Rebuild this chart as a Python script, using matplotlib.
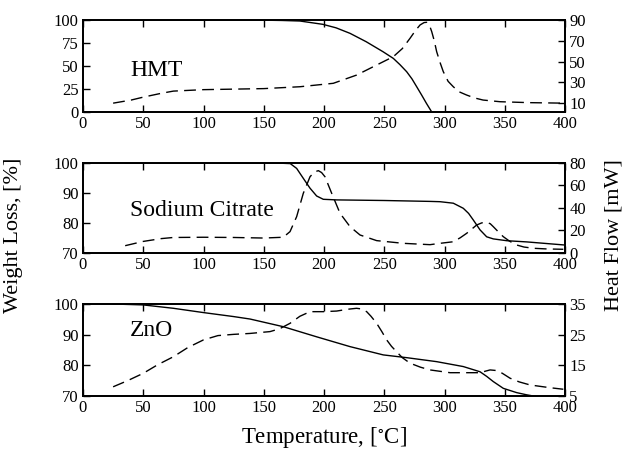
import matplotlib
matplotlib.use("Agg")
import matplotlib.pyplot as plt

plt.rcParams['font.family'] = ['Liberation Serif', 'DejaVu Serif']
plt.rcParams['mathtext.fontset'] = 'stix'

# HMT
hmt_wt_T = [25, 100, 150, 165, 180, 199, 210, 221.6, 235, 249, 257.5, 263, 268.6, 273, 276.9, 281, 285, 289.4]
hmt_wt = [100, 100, 99.8, 99.5, 98.9, 95.3, 91.5, 85.5, 76.4, 65.5, 58.3, 51.5, 43.8, 36, 27.5, 18.5, 9.4, 0]
hmt_hf_T = [25, 40, 50, 65, 75, 100, 150, 180, 207.7, 227, 243.7, 257.5, 265, 271.4, 276, 279.7, 283, 285.2,
            287.5, 289.4, 291.5, 293.5, 296.5, 299, 303, 307.3, 312, 318.4, 325, 332, 346, 370, 400]
hmt_hf = [10, 13, 15.8, 19.5, 21.6, 23, 24, 25.8, 29.1, 37, 46.7, 54.7, 62.5, 72.4, 80, 85.2, 87.5, 87.8,
          85, 78.8, 70, 59.5, 48.5, 40.3, 31, 25.8, 21, 17.8, 15, 13, 11.4, 10.5, 10]

# Sodium Citrate
sc_wt_T = [35, 100, 160, 172, 177.3, 182.8, 188.4, 193.9, 199.4, 210.5, 250, 288, 296.3, 307.3, 315.6, 320,
           323.9, 329.5, 335, 340.5, 351.6, 368.2, 398.6]
sc_wt = [100, 100, 100, 99.8, 98.2, 94.9, 91.6, 89, 87.9, 87.7, 87.5, 87.2, 87.1, 86.6, 84.9, 83.2,
         81, 77.7, 75.4, 74.7, 74.1, 73.7, 72.7]
sc_hf_T = [35, 50, 65, 75, 100, 125, 150, 166.2, 171.8, 177.3, 182.8, 188.4, 192, 195.3, 198, 200.8, 206.4,
           213.3, 221.6, 229.9, 243.7, 265.8, 288, 296.3, 307.3, 313, 318.4, 326.7, 331, 335, 338, 340.5,
           344.5, 348.8, 354, 359.9, 366, 373.7, 385, 398.6]
sc_hf = [6.5, 10.3, 12.8, 13.8, 14, 13.8, 13.3, 14, 19, 32.3, 53, 67.8, 72, 73.2, 71.5, 67.8, 53,
         35.3, 23.4, 16, 11, 8.6, 7.4, 8.6, 10, 13.5, 17.5, 24.9, 26.8, 27.3, 26, 23.4,
         19, 14.5, 10.5, 7.1, 5.3, 4.2, 3.6, 3.3]

# ZnO
zn_wt_T = [25, 50, 75, 100, 125, 138.6, 166.2, 193.9, 221.6, 249.2, 268.6, 293.5, 315.6, 329.5, 335, 340.5,
           348.8, 359.9, 368, 376.5, 385]
zn_wt = [100, 99.7, 98.6, 97.2, 95.9, 95.1, 92.6, 89.3, 86.1, 83.4, 82.5, 81.2, 79.6, 77.9, 76.4, 74.7,
         72.5, 71.1, 70.4, 69.8, 69.5]
zn_hf_T = [25, 37, 50, 62, 75, 87, 100, 112, 125, 138.6, 155.2, 163, 171.8, 180, 188.4, 199.4, 210.5, 220,
           227, 231, 235.4, 239, 243.7, 248, 252, 256, 260.3, 265, 271.4, 280, 288, 304.6, 329.5, 334, 337.8,
           343.3, 348, 354.4, 362, 371, 387.6, 398.6]
zn_hf = [8, 10, 12.4, 15.2, 17.8, 20.8, 23.3, 24.7, 25.1, 25.4, 26, 26.9, 28.7, 31, 32.5, 32.5, 32.7, 33.3,
         33.6, 33.4, 32.5, 31, 28.7, 26, 23.3, 21.2, 19.4, 17.5, 15.7, 14.4, 13.5, 12.6, 12.6, 13.1, 13.5,
         13.3, 12.4, 10.8, 9.6, 8.6, 7.7, 7.2]

panels = [
    dict(name="HMT", wT=hmt_wt_T, w=hmt_wt, hT=hmt_hf_T, h=hmt_hf,
         ylim=(0, 100), yt=[0, 25, 50, 75, 100], rlim=(1.5, 90), rt=[10, 30, 50, 70, 90], ly=45),
    dict(name="Sodium Citrate", wT=sc_wt_T, w=sc_wt, hT=sc_hf_T, h=sc_hf,
         ylim=(70, 100), yt=[70, 80, 90, 100], rlim=(0, 80), rt=[0, 20, 40, 60, 80], ly=84.3),
    dict(name="ZnO", wT=zn_wt_T, w=zn_wt, hT=zn_hf_T, h=zn_hf,
         ylim=(70, 100), yt=[70, 80, 90, 100], rlim=(5, 35), rt=[5, 15, 25, 35], ly=91.5),
]

W, H = 627, 454
fig = plt.figure(figsize=(W / 100, H / 100), dpi=100)
left, right = 83 / W, 565 / W
tops = [20, 163, 304]
bots = [112, 253, 396]

for p, t, b in zip(panels, tops, bots):
    ax = fig.add_axes([left, 1 - b / H, right - left, (b - t) / H])
    ax.plot(p["wT"], p["w"], color="black", lw=1.0)
    ax.set_xlim(0, 400)
    ax.set_ylim(*p["ylim"])
    ax.set_yticks(p["yt"])
    ax.set_xticks(range(0, 401, 50))
    ax.tick_params(direction="in", top=True, right=False, length=5, width=1, labelsize=12, pad=3)
    ax.text(39, p["ly"], p["name"], fontsize=17, va="center", ha="left")
    ax2 = ax.twinx()
    ax2.plot(p["hT"], p["h"], color="black", lw=1.0, dashes=(8.5, 4.5))
    ax2.set_ylim(*p["rlim"])
    ax2.set_yticks(p["rt"])
    ax2.tick_params(direction="in", length=5, width=1, labelsize=12, pad=3)
    for a in (ax, ax2):
        for s in a.spines.values():
            s.set_linewidth(1.3)

fig.text(0.0215, 0.482, "Weight Loss, [%]", rotation=90, fontsize=16, va="center", ha="center")
fig.text(0.980, 0.482, "Heat Flow [mW]", rotation=90, fontsize=16, va="center", ha="center")
fig.text((left + right) / 2, 0.037, "Temperature, [$^{\\circ}$C]", fontsize=16.5, va="center", ha="center")

fig.savefig("out.png", dpi=100)
